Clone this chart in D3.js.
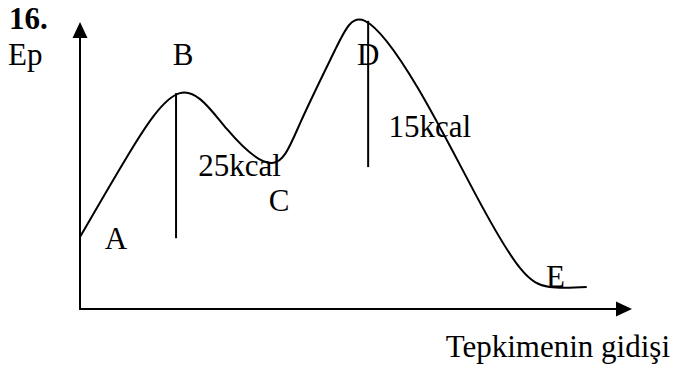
<!DOCTYPE html>
<html>
<head>
<meta charset="utf-8">
<script src="https://cdn.jsdelivr.net/npm/d3@7"></script>
<style>
  html, body { margin: 0; padding: 0; background: #fff; }
  svg { display: block; }
  #chart text.lbl { font-family: "Times New Roman", "Liberation Serif", "DejaVu Serif", serif !important; font-size: 31px; }
  #chart text.bold { font-weight: bold; }
</style>
</head>
<body>
<svg id="chart" width="674" height="370"></svg>
<script>
// Reaction progress (0-100) and potential energy (0-100, arbitrary units)
const progress = [0, 8.5, 18.1, 26.6, 34.8, 39.9, 46.2, 51.6, 61.1, 71.9, 79.7, 85.1, 91.8];
const energy   = [24.9, 52.6, 74.7, 62.3, 50.5, 64.4, 89.6, 99.7, 76.8, 38.8, 14.2, 7.6, 7.6];

// Point labels
const pointNames = ["A", "B", "C", "D", "E"];
const pointX     = [4.5, 16.8, 34.2, 50.2, 84.4];
const pointY     = [20.8, 84.4, 33.9, 84.4, 7.6];

// Energy-difference markers (vertical lines) and their labels
const dropNames  = ["25kcal", "15kcal"];
const dropX      = [17.4, 52.2];
const dropTop    = [74.7, 99.7];
const dropBottom = [24.5, 49.1];
const dropLabelX = [21.4, 55.9];
const dropLabelY = [46.0, 59.5];

const svg = d3.select("#chart");
const x = d3.scaleLinear().domain([0, 100]).range([80, 632]);
const y = d3.scaleLinear().domain([0, 100]).range([309, 20]);

// Axes with arrowheads
const axisG = svg.append("g").attr("stroke", "#000").attr("stroke-width", 2);
axisG.append("line").attr("x1", x(0)).attr("y1", y(0)).attr("x2", x(0)).attr("y2", 36);
axisG.append("line").attr("x1", x(0) - 1).attr("y1", y(0)).attr("x2", 618).attr("y2", y(0));
svg.append("path").attr("d", `M${x(0)},22 L${x(0) - 7.5},38 L${x(0) + 7.5},38 Z`).attr("fill", "#000");
svg.append("path").attr("d", `M632,${y(0)} L616,${y(0) - 7.5} L616,${y(0) + 7.5} Z`).attr("fill", "#000");

// Energy curve
const pts = progress.map((p, i) => [p, energy[i]]);
const line = d3.line().x(d => x(d[0])).y(d => y(d[1])).curve(d3.curveNatural);
svg.append("path").attr("d", line(pts)).attr("fill", "none").attr("stroke", "#000").attr("stroke-width", 2);

// Vertical markers
svg.selectAll("line.drop").data(dropX).join("line").attr("class", "drop")
  .attr("x1", d => x(d)).attr("x2", d => x(d))
  .attr("y1", (d, i) => y(dropTop[i])).attr("y2", (d, i) => y(dropBottom[i]))
  .attr("stroke", "#000").attr("stroke-width", 2);

svg.selectAll("text.drop").data(dropNames).join("text").attr("class", "drop lbl")
  .attr("x", (d, i) => x(dropLabelX[i])).attr("y", (d, i) => y(dropLabelY[i]))
  .text(d => d);
svg.selectAll("text.pt").data(pointNames).join("text").attr("class", "pt lbl")
  .attr("x", (d, i) => x(pointX[i])).attr("y", (d, i) => y(pointY[i]))
  .text(d => d);

// Titles
svg.append("text").attr("class", "lbl bold").attr("x", 9).attr("y", 29).text("16.");
svg.append("text").attr("class", "lbl").attr("x", 8).attr("y", 65).text("Ep");
svg.append("text").attr("class", "lbl").attr("x", 670).attr("y", 357).attr("text-anchor", "end").text("Tepkimenin gidişi");
</script>
</body>
</html>
